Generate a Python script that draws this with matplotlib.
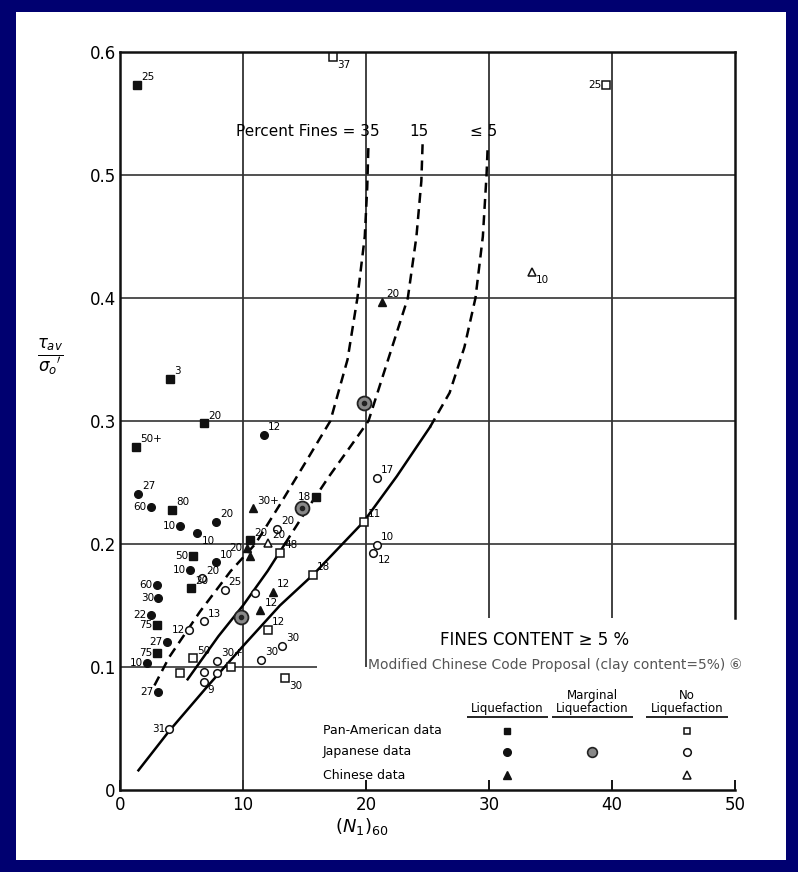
import matplotlib
matplotlib.use("Agg")
import matplotlib.pyplot as plt
from matplotlib.patches import Rectangle

# ---- data ----
pa_liq_x = [1.4, 4.1, 6.8, 1.3, 4.2, 5.9, 15.9, 5.8, 3.0, 3.0, 10.6]
pa_liq_y = [0.573, 0.334, 0.298, 0.279, 0.228, 0.190, 0.238, 0.164, 0.134, 0.111, 0.203]
pa_liq_lab = ['25', '3', '20', '50+', '80', '50', '18', '20', '75', '75', '20']

pa_no_x = [17.3, 39.5, 19.8, 15.7, 12.0, 13.4, 13.0, 4.9, 5.9, 9.0]
pa_no_y = [0.596, 0.573, 0.218, 0.175, 0.130, 0.091, 0.193, 0.095, 0.107, 0.100]
pa_no_lab = ['37', '25', '11', '18', '12', '30', '48', '', '50', '']

jp_liq_x = [1.5, 2.5, 4.9, 6.3, 7.8, 11.7, 7.8, 5.7, 3.0, 3.1, 2.5, 3.8, 2.2, 3.1]
jp_liq_y = [0.241, 0.230, 0.215, 0.209, 0.218, 0.289, 0.185, 0.179, 0.167, 0.156, 0.142, 0.120, 0.103, 0.080]
jp_liq_lab = ['27', '60', '10', '10', '20', '12', '10', '10', '60', '30', '22', '27', '10', '27']

jp_marg_x = [19.8, 14.8, 9.8]
jp_marg_y = [0.315, 0.229, 0.141]

jp_no_x = [20.9, 20.9, 20.6, 6.7, 8.5, 6.8, 5.6, 12.8, 11.0, 11.5, 13.2, 4.0, 6.8, 6.8, 7.9, 7.9]
jp_no_y = [0.254, 0.199, 0.193, 0.172, 0.163, 0.137, 0.130, 0.212, 0.160, 0.106, 0.117, 0.050, 0.096, 0.088, 0.105, 0.095]
jp_no_lab = ['17', '10', '12', '20', '25', '13', '12', '20', '', '30', '30', '31', '', '9', '30+', '']

cn_liq_x = [21.3, 10.8, 12.4, 11.4, 10.3, 10.6]
cn_liq_y = [0.397, 0.229, 0.161, 0.146, 0.197, 0.190]
cn_liq_lab = ['20', '30+', '12', '12', '20', '']

cn_no_x = [33.5, 12.0]
cn_no_y = [0.421, 0.201]
cn_no_lab = ['10', '20']

# boundary curves (percent fines 35, 15, <=5)
c35_x = [2.8, 4.0, 6.5, 9.0, 11.0, 13.0, 15.0, 17.1, 18.5, 19.3, 19.9, 20.1, 20.2]
c35_y = [0.085, 0.108, 0.145, 0.178, 0.200, 0.232, 0.265, 0.300, 0.350, 0.400, 0.450, 0.490, 0.525]
c15_x = [5.5, 8.0, 10.0, 12.0, 13.4, 15.0, 17.0, 19.0, 20.2, 21.8, 23.4, 24.1, 24.5, 24.6]
c15_y = [0.090, 0.125, 0.150, 0.178, 0.200, 0.225, 0.255, 0.283, 0.300, 0.350, 0.400, 0.450, 0.495, 0.525]
c5_x = [1.5, 4.0, 7.0, 10.0, 13.0, 15.7, 19.8, 22.5, 25.2, 26.8, 28.0, 28.9, 29.5, 29.8, 29.9]
c5_y = [0.016, 0.048, 0.083, 0.117, 0.150, 0.175, 0.218, 0.255, 0.295, 0.323, 0.360, 0.400, 0.450, 0.500, 0.525]

# label placement per point (r = right/up, l = left, s = subscript right)
pa_liq_side = ['r', 'r', 'r', 'r', 'r', 'l', 'l', 'r', 'l', 'l', 'r']
pa_no_side = ['s', 'l', 'r', 'r', 'r', 's', 'r', 'r', 'r', 'r']
jp_liq_side = ['r', 'l', 'l', 's', 'r', 'r', 'r', 'l', 'l', 'l', 'l', 'l', 'l', 'l']
jp_no_side = ['r', 'r', 's', 'r', 'r', 'r', 'l', 'r', 'r', 'r', 'r', 'l', 'r', 's', 'r', 'r']
cn_liq_side = ['r', 'r', 'r', 'r', 'l', 'r']
cn_no_side = ['s', 'r']

navy = '#000070'
fig = plt.figure(figsize=(7.98, 8.72), dpi=100, facecolor=navy)
fig.patches.append(Rectangle((16 / 798, 12 / 872), 770 / 798, 848 / 872,
                             transform=fig.transFigure, facecolor='white',
                             edgecolor='none', zorder=-5))

ax = fig.add_axes([120 / 798, 1 - 790 / 872, 615 / 798, 738 / 872])
ax.set_zorder(2)
ax.patch.set_alpha(0)
ax.set_xlim(0, 50)
ax.set_ylim(0, 0.6)
for s in ['left', 'bottom', 'top', 'right']:
    ax.spines[s].set_linewidth(1.8)
    ax.spines[s].set_color('#111111')
ax.spines['right'].set_bounds(0.14, 0.6)

ax.set_xticks([0, 10, 20, 30, 40, 50])
ax.set_yticks([0, 0.1, 0.2, 0.3, 0.4, 0.5, 0.6])
ax.set_yticklabels(['0', '0.1', '0.2', '0.3', '0.4', '0.5', '0.6'])
ax.tick_params(direction='in', length=7, width=1.3, labelsize=12, pad=4)
ax.tick_params(axis='y', length=0, pad=3)

# grid lines as drawn on the original
ax.hlines([0.2, 0.3, 0.4, 0.5], 0, 50, color='#333333', lw=1.2)
ax.hlines(0.1, 0, 16, color='#333333', lw=1.2)
ax.vlines(10, 0, 0.6, color='#333333', lw=1.3)
ax.vlines(20, 0.1, 0.6, color='#333333', lw=1.3)
ax.vlines([30, 40], 0.14, 0.6, color='#333333', lw=1.3)

# curves: lower parts solid, upper parts dashed
dash = (0, (4, 2.5))
ax.plot(c35_x, c35_y, color='k', lw=1.8, linestyle=dash)
ax.plot(c15_x[:5], c15_y[:5], color='k', lw=1.8)
ax.plot(c15_x[4:], c15_y[4:], color='k', lw=1.8, linestyle=dash)
ax.plot(c5_x[:9], c5_y[:9], color='k', lw=1.8)
ax.plot(c5_x[8:], c5_y[8:], color='k', lw=1.8, linestyle=dash)

ax.text(21.1, 0.535, 'Percent Fines = 35', ha='right', va='center', fontsize=11)
ax.text(24.3, 0.535, '15', ha='center', va='center', fontsize=11)
ax.text(29.6, 0.535, '\u2264 5', ha='center', va='center', fontsize=11)

offs = {'r': (3, 2, 'left', 'bottom'), 'l': (-3, 0, 'right', 'center'),
        's': (3, -2, 'left', 'top')}


def series(xs, ys, labs, sides, **kw):
    ax.plot(xs, ys, linestyle='none', zorder=4, **kw)
    for x, y, t, sd in zip(xs, ys, labs, sides):
        if not t:
            continue
        dx, dy, ha, va = offs[sd]
        ax.annotate(t, (x, y), xytext=(dx, dy), textcoords='offset points',
                    ha=ha, va=va, fontsize=7.5, zorder=5)


series(pa_liq_x, pa_liq_y, pa_liq_lab, pa_liq_side, marker='s', ms=5.5,
       color='#111111')
series(pa_no_x, pa_no_y, pa_no_lab, pa_no_side, marker='s', ms=5.5,
       mfc='white', mec='#111111', mew=1.1)
series(jp_liq_x, jp_liq_y, jp_liq_lab, jp_liq_side, marker='o', ms=5.5,
       color='#111111')
series(jp_no_x, jp_no_y, jp_no_lab, jp_no_side, marker='o', ms=5.5,
       mfc='white', mec='#111111', mew=1.1)
series(cn_liq_x, cn_liq_y, cn_liq_lab, cn_liq_side, marker='^', ms=6,
       color='#111111')
series(cn_no_x, cn_no_y, cn_no_lab, cn_no_side, marker='^', ms=6,
       mfc='white', mec='#111111', mew=1.1)
ax.plot(jp_marg_x, jp_marg_y, linestyle='none', marker='o', ms=10,
        mfc='#888888', mec='#222222', mew=1.3, zorder=4)
ax.plot(jp_marg_x, jp_marg_y, linestyle='none', marker='o', ms=3,
        color='#222222', zorder=5)

# legend block
ax.text(33.7, 0.122, 'FINES CONTENT \u2265 5 %', ha='center', va='center',
        fontsize=12)
ax.text(35.4, 0.102, 'Modified Chinese Code Proposal (clay content=5%) \u2465',
        ha='center', va='center', fontsize=10, color='#555555')

col_x = [31.5, 38.4, 46.1]
heads = ['Liquefaction', 'Marginal\nLiquefaction', 'No\nLiquefaction']
for cx, h in zip(col_x, heads):
    ax.text(cx, 0.061, h, ha='center', va='bottom', fontsize=8.5,
            linespacing=0.95)
    ax.hlines(0.059, cx - 3.3, cx + 3.3, color='k', lw=1.2)

rows_y = [0.048, 0.031, 0.012]
rows = ['Pan-American data', 'Japanese data', 'Chinese data']
for ry, r in zip(rows_y, rows):
    ax.text(16.5, ry, r, ha='left', va='center', fontsize=9)
ax.plot(col_x[0], rows_y[0], marker='s', ms=5, color='#111111')
ax.plot(col_x[0], rows_y[1], marker='o', ms=5.5, color='#111111')
ax.plot(col_x[0], rows_y[2], marker='^', ms=6, color='#111111')
ax.plot(col_x[1], rows_y[1], marker='o', ms=7, mfc='#888888', mec='#222222', mew=1.2)
ax.plot(col_x[2], rows_y[0], marker='s', ms=5, mfc='white', mec='#111111', mew=1.1)
ax.plot(col_x[2], rows_y[1], marker='o', ms=5.5, mfc='white', mec='#111111', mew=1.1)
ax.plot(col_x[2], rows_y[2], marker='^', ms=6, mfc='white', mec='#111111', mew=1.1)

fig.text(362 / 798, 1 - 826 / 872, r'$(N_1)_{60}$', ha='center', va='center',
         fontsize=13)
fig.text(50 / 798, 1 - 357 / 872, r'$\frac{\tau_{av}}{\sigma_o{}^{\prime}}$',
         ha='center', va='center', fontsize=17)

fig.savefig('out.png', dpi=100, facecolor=navy)
